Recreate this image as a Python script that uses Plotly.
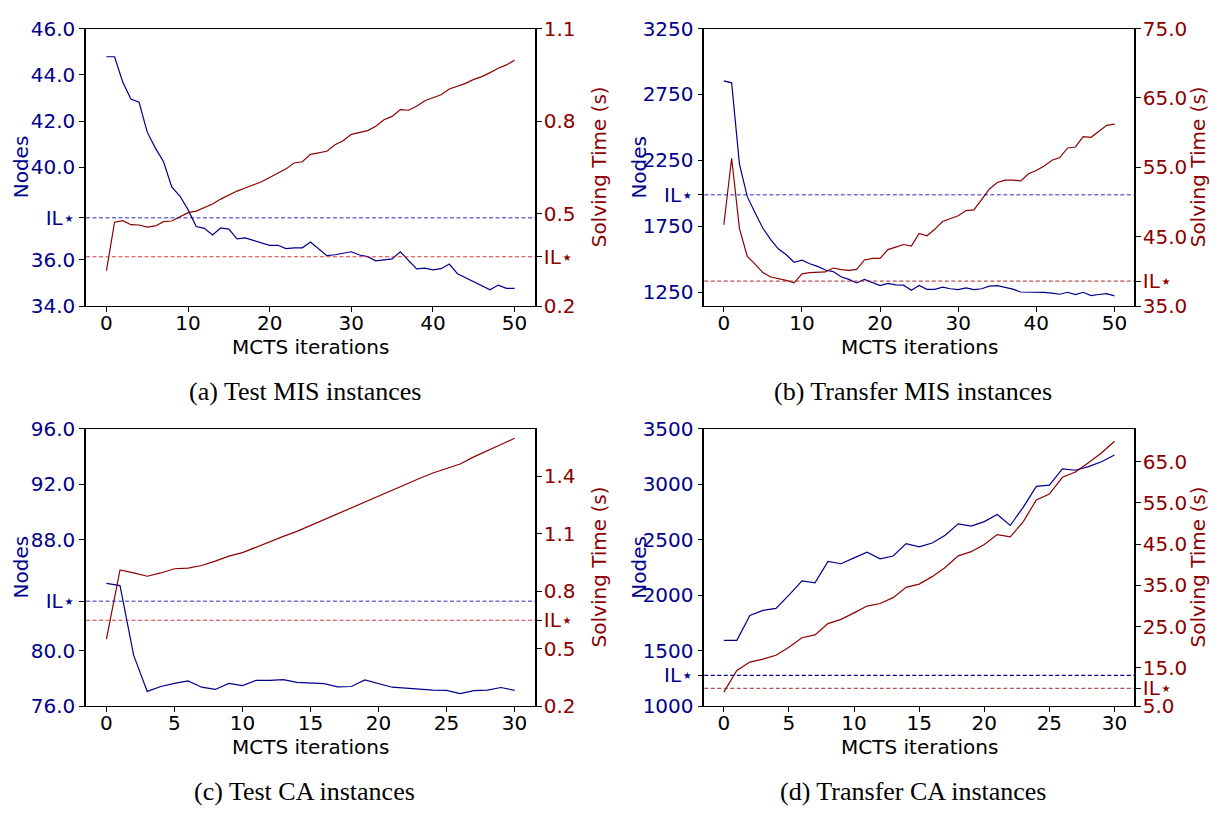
import plotly.graph_objects as go

# ---------------- data ----------------
iters_mis = list(range(51))
iters_ca = list(range(31))

nodes_a = [44.78, 44.78, 43.69, 42.95, 42.81, 41.52, 40.83, 40.24, 39.15, 38.76,
           38.17, 37.44, 37.36, 37.08, 37.38, 37.33, 36.91, 36.95, 36.84, 36.74,
           36.63, 36.63, 36.49, 36.52, 36.52, 36.77, 36.49, 36.18, 36.22, 36.27,
           36.35, 36.21, 36.14, 35.96, 36.01, 36.04, 36.35, 35.96, 35.61, 35.64,
           35.57, 35.62, 35.82, 35.40, 35.23, 35.06, 34.91, 34.71, 34.91, 34.77, 34.77]
time_a = [0.315, 0.472, 0.477, 0.464, 0.463, 0.456, 0.460, 0.474, 0.476, 0.490,
          0.503, 0.508, 0.519, 0.531, 0.547, 0.561, 0.573, 0.583, 0.592, 0.603,
          0.617, 0.631, 0.645, 0.664, 0.668, 0.692, 0.697, 0.702, 0.723, 0.736,
          0.757, 0.763, 0.769, 0.783, 0.804, 0.815, 0.837, 0.835, 0.848, 0.866,
          0.876, 0.885, 0.904, 0.913, 0.922, 0.935, 0.944, 0.957, 0.971, 0.982, 0.997]

nodes_b = [2853, 2838, 2221, 1975, 1853, 1735, 1650, 1578, 1534, 1478,
           1493, 1466, 1446, 1419, 1407, 1368, 1348, 1321, 1348, 1326,
           1301, 1318, 1306, 1304, 1265, 1301, 1272, 1272, 1289, 1277,
           1270, 1284, 1270, 1277, 1297, 1301, 1289, 1274, 1252, 1252,
           1252, 1250, 1243, 1235, 1250, 1233, 1250, 1225, 1233, 1240, 1223]
time_b = [46.72, 56.30, 46.16, 42.16, 41.05, 39.84, 39.19, 38.95, 38.72, 38.35,
          39.65, 39.84, 39.93, 39.93, 40.49, 40.26, 40.16, 40.30, 41.65, 41.88,
          41.88, 43.14, 43.51, 43.88, 43.65, 45.47, 45.14, 46.07, 47.19, 47.65,
          48.02, 48.77, 48.86, 50.35, 51.88, 52.81, 53.14, 53.14, 53.05, 54.07,
          54.53, 55.19, 56.02, 56.40, 57.79, 57.93, 59.42, 59.33, 60.21, 61.05, 61.23]

nodes_c = [84.85, 84.69, 79.67, 77.06, 77.41, 77.64, 77.81, 77.36, 77.20, 77.64,
           77.48, 77.85, 77.85, 77.90, 77.71, 77.69, 77.62, 77.39, 77.41, 77.88,
           77.62, 77.36, 77.29, 77.20, 77.15, 77.13, 76.90, 77.11, 77.15, 77.34, 77.13]
time_c = [0.550, 0.911, 0.895, 0.878, 0.895, 0.917, 0.920, 0.934, 0.957, 0.983,
          1.001, 1.030, 1.057, 1.086, 1.112, 1.143, 1.172, 1.206, 1.236, 1.266,
          1.297, 1.329, 1.358, 1.388, 1.417, 1.442, 1.464, 1.501, 1.535, 1.566, 1.598]

nodes_d = [1592, 1592, 1817, 1863, 1881, 2000, 2129, 2111, 2304, 2283,
           2336, 2388, 2327, 2353, 2464, 2435, 2470, 2540, 2642, 2622,
           2663, 2727, 2628, 2794, 2981, 2992, 3138, 3126, 3158, 3202, 3264]
time_d = [9.11, 14.37, 16.41, 17.12, 18.06, 20.02, 22.30, 23.00, 25.75, 26.77,
          28.34, 29.99, 30.62, 32.03, 34.54, 35.33, 37.13, 39.33, 42.16, 43.18,
          44.91, 47.34, 46.79, 50.48, 55.74, 57.15, 61.23, 62.49, 64.76, 67.12, 69.95]

# IL* baselines (nodes, time)
il_nodes = [37.82, 1990, 83.56, 1277]
il_time = [0.36, 38.6, 0.648, 10.05]

# axis ranges
x_ranges = [[-2.5, 52.5], [-2.5, 52.5], [-1.5, 31.5], [-1.5, 31.5]]
node_ranges = [[34.0, 46.0], [1145, 3250], [76.0, 96.0], [1000, 3500]]
time_ranges = [[0.2, 1.1], [35.0, 75.0], [0.2, 1.648], [5.74, 73.0]]

x_ticks = [[0, 10, 20, 30, 40, 50], [0, 10, 20, 30, 40, 50],
           [0, 5, 10, 15, 20, 25, 30], [0, 5, 10, 15, 20, 25, 30]]
node_ticks = [[34.0, 36.0, 40.0, 42.0, 44.0, 46.0],
              [1250, 1750, 2250, 2750, 3250],
              [76.0, 80.0, 88.0, 92.0, 96.0],
              [1000, 1500, 2000, 2500, 3000, 3500]]
node_fmt = ["{:.1f}", "{:.0f}", "{:.1f}", "{:.0f}"]
time_ticks = [[0.2, 0.5, 0.8, 1.1],
              [35.0, 45.0, 55.0, 65.0, 75.0],
              [0.2, 0.5, 0.8, 1.1, 1.4],
              [5.74, 15.0, 25.0, 35.0, 45.0, 55.0, 65.0]]
time_labels = [None, None, None,
               ["5.0", "15.0", "25.0", "35.0", "45.0", "55.0", "65.0"]]

captions = ["(a) Test MIS instances", "(b) Transfer MIS instances",
            "(c) Test CA instances", "(d) Transfer CA instances"]

xs = [iters_mis, iters_mis, iters_ca, iters_ca]
nodes = [nodes_a, nodes_b, nodes_c, nodes_d]
times = [time_a, time_b, time_c, time_d]

BLUE = "#00008B"
RED = "#8B0000"
il_blue = ["rgba(0,0,170,0.55)", "rgba(0,0,170,0.55)", "rgba(0,0,170,0.55)", "rgba(0,0,139,1)"]
il_red = ["rgba(200,30,30,0.85)", "rgba(160,20,20,0.75)", "rgba(200,30,30,0.85)", "rgba(150,30,30,0.75)"]

# ---------------- layout geometry (pixels) ----------------
W, H = 1217, 820
xdom_px = [(86, 535), (704.3, 1134), (86, 535), (704.3, 1134)]
ydom_px = [(17, 303), (17, 303), (429.3, 715), (429.3, 715)]

FS = 20
TICKFONT = dict(family="DejaVu Sans", size=FS)

fig = go.Figure()
layout = dict(width=W, height=H, margin=dict(l=0, r=0, t=0, b=0),
              paper_bgcolor="white", plot_bgcolor="white", showlegend=False)
annotations = []
shapes = []

for k in range(4):
    xi = k + 1
    yl = 2 * k + 1
    yr = 2 * k + 2
    xname = "xaxis" if xi == 1 else f"xaxis{xi}"
    ylname = "yaxis" if yl == 1 else f"yaxis{yl}"
    yrname = f"yaxis{yr}"
    xref = "x" if xi == 1 else f"x{xi}"
    ylref = "y" if yl == 1 else f"y{yl}"
    yrref = f"y{yr}"

    x0, x1 = xdom_px[k]
    yt, yb = ydom_px[k]
    xd = [x0 / W, x1 / W]
    yd = [1 - yb / H, 1 - yt / H]

    layout[xname] = dict(domain=xd, anchor=ylref, range=x_ranges[k],
                         tickvals=x_ticks[k], ticks="outside", ticklen=5,
                         tickwidth=1, tickcolor="black", showline=True,
                         linecolor="black", linewidth=1, mirror=True,
                         showgrid=False, zeroline=False, ticklabelstandoff=-6,
                         tickfont=dict(color="black", **TICKFONT))

    nv = node_ticks[k] + [il_nodes[k]]
    nt = [node_fmt[k].format(v) for v in node_ticks[k]] + ["IL⋆"]
    layout[ylname] = dict(domain=yd, anchor=xref, range=node_ranges[k],
                          tickvals=nv, ticktext=nt, ticks="outside", ticklen=5,
                          tickwidth=1, tickcolor="black", showline=True,
                          linecolor="black", linewidth=1.5, showgrid=False,
                          zeroline=False, tickfont=dict(color=BLUE, **TICKFONT))

    tv = time_ticks[k] + [il_time[k]]
    if time_labels[k] is None:
        tt = ["{:.1f}".format(v) for v in time_ticks[k]]
    else:
        tt = list(time_labels[k])
    tt = tt + ["IL⋆"]
    layout[yrname] = dict(overlaying=ylref, side="right", anchor=xref,
                          range=time_ranges[k], tickvals=tv, ticktext=tt,
                          ticks="outside", ticklen=5, tickwidth=1,
                          tickcolor="black", showline=True, linecolor="black",
                          linewidth=1.5, showgrid=False, zeroline=False,
                          ticklabelstandoff=-2,
                          tickfont=dict(color=RED, **TICKFONT))

    # IL* baselines
    shapes.append(dict(type="line", xref=f"{xref} domain", x0=0, x1=1,
                       yref=ylref, y0=il_nodes[k], y1=il_nodes[k],
                       line=dict(color=il_blue[k], width=1.4, dash="4px,2.5px")))
    shapes.append(dict(type="line", xref=f"{xref} domain", x0=0, x1=1,
                       yref=yrref, y0=il_time[k], y1=il_time[k],
                       line=dict(color=il_red[k], width=1.2, dash="4px,2.5px")))

    fig.add_trace(go.Scatter(x=xs[k], y=nodes[k], mode="lines",
                             line=dict(color=BLUE, width=1.2),
                             xaxis=xref, yaxis=ylref))
    fig.add_trace(go.Scatter(x=xs[k], y=times[k], mode="lines",
                             line=dict(color=RED, width=1.2),
                             xaxis=xref, yaxis=yrref))

    # axis titles
    cx = (x0 + x1) / 2
    cy = (yt + yb) / 2
    annotations.append(dict(text="MCTS iterations", xref="paper", yref="paper",
                            x=cx / W, y=1 - (yb + 42) / H, showarrow=False,
                            xanchor="center", yanchor="middle",
                            font=dict(family="DejaVu Sans", size=FS, color="black")))
    annotations.append(dict(text="Nodes", xref="paper", yref="paper",
                            x=(x0 - 65) / W, y=1 - cy / H, showarrow=False,
                            textangle=-90, xanchor="center", yanchor="middle",
                            font=dict(family="DejaVu Sans", size=FS, color=BLUE)))
    annotations.append(dict(text="Solving Time (s)", xref="paper", yref="paper",
                            x=(x1 + 64) / W, y=1 - cy / H, showarrow=False,
                            textangle=-90, xanchor="center", yanchor="middle",
                            font=dict(family="DejaVu Sans", size=FS, color=RED)))
    annotations.append(dict(text=captions[k], xref="paper", yref="paper",
                            x=(cx - 6) / W, y=1 - (yb + 88) / H, showarrow=False,
                            xanchor="center", yanchor="middle",
                            font=dict(family="Liberation Serif", size=26, color="black")))

layout["annotations"] = annotations
layout["shapes"] = shapes
fig.update_layout(**layout)
fig.write_html("out.html")
